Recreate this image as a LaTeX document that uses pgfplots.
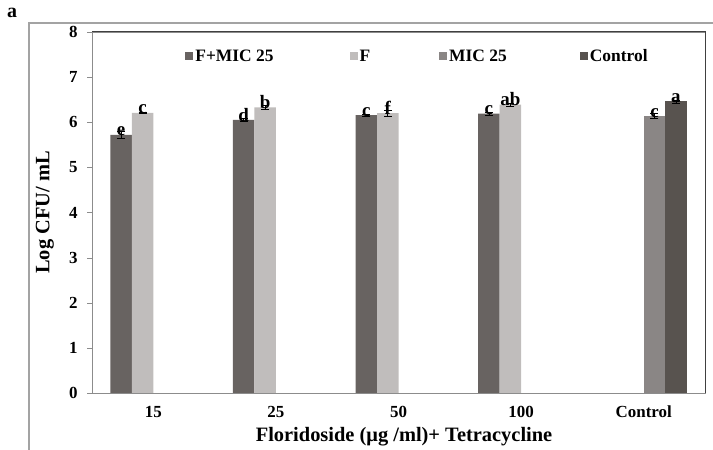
\documentclass[border=0pt]{standalone}
\usepackage{pgfplots}
\pgfplotsset{compat=1.18}
\usepackage{pgfplotstable}
\usepackage{fontspec}
\setmainfont{Liberation Serif}
\definecolor{cA}{HTML}{686361}
\definecolor{cB}{HTML}{C0BDBC}
\definecolor{cC}{HTML}{8A8685}
\definecolor{cD}{HTML}{58534F}
\definecolor{axgray}{HTML}{8C8C8C}
\pgfplotstableread{
x y e lab
0 5.72 0.085 e
1 6.05 0.03 d
2 6.16 0.025 c
3 6.19 0.035 c
}\sA
\pgfplotstableread{
x y e lab
0 6.21 0.02 c
1 6.33 0.05 b
2 6.20 0.06 f
3 6.39 0.03 ab
}\sB
\pgfplotstableread{
x y e lab
4 6.14 0.06 c
}\sC
\pgfplotstableread{
x y e lab
4 6.46 0.035 a
}\sD
\begin{document}
\begin{tikzpicture}[x=1bp,y=1bp]
\useasboundingbox (0,0) rectangle (713,450);
\draw[axgray!80, line width=1.2pt] (29,0) -- (29,427) -- (713,427);
\node[font=\fontsize{20}{20}\selectfont\bfseries] at (12,437) {a};
\begin{axis}[
  at={(92bp,57bp)}, anchor=south west,
  scale only axis, width=613bp, height=361bp,
  xmin=-0.5, xmax=4.5, ymin=0, ymax=8,
  ybar=0pt, bar width=21.5bp,
  xtick={0,1,2,3,4},
  xticklabels={15,25,50,100,Control},
  x tick style={draw=none},
  extra x ticks={-0.5,0.5,1.5,2.5,3.5,4.5},
  extra x tick labels={},
  extra x tick style={major tick length=5bp, tick align=outside, tick style={axgray, draw=axgray}},
  ytick={0,1,...,8},
  ytick pos=left, tick align=outside, major tick length=5bp,
  y tick style={axgray},
  axis line style={axgray, line width=0.8pt},
  /pgf/number format/assume math mode=true,
  ticklabel style={font=\fontsize{17}{17}\selectfont\bfseries},
  xticklabel style={yshift=-4bp, text height=12bp, text depth=3bp, anchor=north},
  yticklabel style={xshift=-6bp},
  xlabel={Floridoside (μg /ml)+ Tetracycline},
  ylabel={Log CFU/ mL},
  xlabel style={font=\fontsize{20.5}{20.5}\selectfont\bfseries, at={(axis description cs:0.509,-0.122)}, anchor=center},
  ylabel style={font=\fontsize{20.5}{20.5}\selectfont\bfseries, at={(axis description cs:-0.077,0.5)}, anchor=center},
  legend columns=4,
  legend style={draw=none, fill=none, at={(axis description cs:0.152,0.933)}, anchor=west,
    font=\fontsize{17.5}{17.5}\selectfont\bfseries,
    /tikz/column 2/.style={column sep=74bp},
    /tikz/column 4/.style={column sep=67bp},
    /tikz/column 6/.style={column sep=71bp},
    inner sep=0pt},
  legend image code/.code={\fill[#1] (0bp,-4bp) rectangle (8bp,4bp);},
  nodes near coords,
  point meta=explicit symbolic,
  nodes near coords style={font=\fontsize{19}{19}\selectfont\bfseries, anchor=south, inner sep=0pt, yshift=-1.5bp},
  error bars/error bar style={black, line width=0.7pt},
  error bars/error mark options={rotate=90, mark size=4bp, black, line width=0.7pt},
  clip=false,
]
\addplot[fill=cA, draw=none, error bars/.cd, y dir=both, y explicit] table[x=x, y=y, y error=e, meta=lab] {\sA};
\addplot[fill=cB, draw=none, error bars/.cd, y dir=both, y explicit] table[x=x, y=y, y error=e, meta=lab] {\sB};
\addplot[fill=cC, draw=none, error bars/.cd, y dir=both, y explicit] table[x=x, y=y, y error=e, meta=lab] {\sC};
\addplot[fill=cD, draw=none, error bars/.cd, y dir=both, y explicit] table[x=x, y=y, y error=e, meta=lab] {\sD};
\legend{F+MIC 25, F, MIC 25, Control}
\draw[black!75, line width=1pt] (rel axis cs:0,1) -- (rel axis cs:1,1) -- (rel axis cs:1,0);
\end{axis}
\end{tikzpicture}
\end{document}
